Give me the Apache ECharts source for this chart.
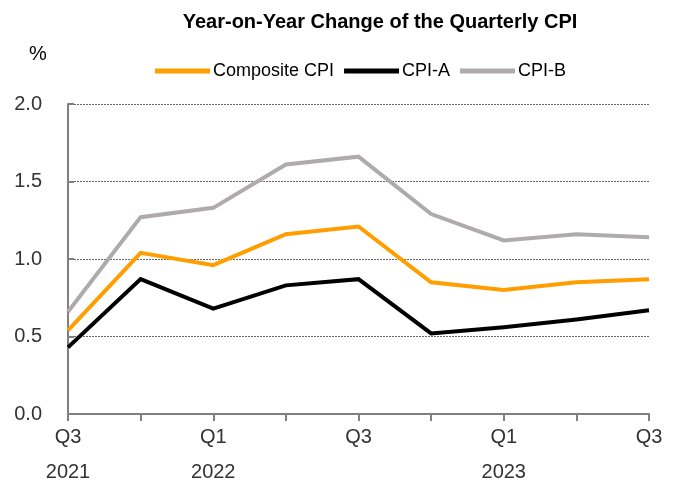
<!DOCTYPE html>
<html>
<head>
<meta charset="utf-8">
<script src="https://cdn.jsdelivr.net/npm/echarts@6/dist/echarts.min.js"></script>
<style>
  html, body { margin: 0; padding: 0; background: #fff; }
  #chart { width: 675px; height: 488px; }
</style>
</head>
<body>
<div id="chart"></div>
<script>
// 季度CPI同比变化
const quarters = ['Q3\n2021', '', 'Q1\n2022', '', 'Q3', '', 'Q1\n2023', '', 'Q3'];
const compositeCpi = [0.54, 1.04, 0.96, 1.16, 1.21, 0.85, 0.80, 0.85, 0.87];
const cpiA = [0.43, 0.87, 0.68, 0.83, 0.87, 0.52, 0.56, 0.61, 0.67];
const cpiB = [0.66, 1.27, 1.33, 1.61, 1.66, 1.29, 1.12, 1.16, 1.14];

const FONT = '"Liberation Sans", Arial, sans-serif';

(function() {
  const chart = echarts.init(document.getElementById('chart'));

  function lineSeries(name, data, color) {
    return {
      name: name,
      type: 'line',
      data: data,
      symbol: 'none',
      lineStyle: { color: color, width: 4, join: 'miter' },
      itemStyle: { color: color }
    };
  }

  const option = {
    animation: false,
    textStyle: { fontFamily: FONT },
    title: {
      text: 'Year-on-Year Change of the Quarterly CPI',
      left: 375,
      textAlign: 'center',
      top: 7,
      textStyle: { fontFamily: FONT, fontSize: 20, fontWeight: 'bold', color: '#000' }
    },
    legend: {
      top: 57,
      left: 150,
      icon: 'rect',
      itemWidth: 55,
      itemHeight: 5,
      itemGap: 10,
      textStyle: { fontFamily: FONT, fontSize: 18, color: '#000', padding: [0, 0, 0, -2] },
      data: ['Composite CPI', 'CPI-A', 'CPI-B']
    },
    grid: { left: 68, right: 26, top: 104, bottom: 74, containLabel: false, outerBoundsMode: 'none' },
    graphic: [{
      type: 'text',
      left: 29,
      top: 44,
      style: { text: '%', font: '20px ' + FONT, fill: '#000' }
    }],
    xAxis: {
      type: 'category',
      data: quarters,
      boundaryGap: false,
      axisLine: { lineStyle: { color: '#808080', width: 2 } },
      axisTick: { show: true, length: 7, interval: 0, lineStyle: { color: '#808080', width: 2 } },
      axisLabel: { interval: 0, margin: 6, fontSize: 20, lineHeight: 35, color: '#333', fontFamily: FONT },
      splitLine: { show: false }
    },
    yAxis: {
      type: 'value',
      min: 0,
      max: 2,
      interval: 0.5,
      axisLine: { show: true, lineStyle: { color: '#808080', width: 2 } },
      axisTick: { show: true, inside: true, length: 6, lineStyle: { color: '#808080', width: 2 } },
      axisLabel: {
        fontSize: 20, color: '#333', margin: 26, fontFamily: FONT,
        formatter: v => v.toFixed(1)
      },
      splitLine: { show: true, lineStyle: { color: '#666', width: 1, type: [2, 1] } }
    },
    series: [
      lineSeries('Composite CPI', compositeCpi, '#FF9E00'),
      lineSeries('CPI-A', cpiA, '#000000'),
      lineSeries('CPI-B', cpiB, '#AFABAB')
    ]
  };

  chart.setOption(option);
})();
</script>
</body>
</html>
